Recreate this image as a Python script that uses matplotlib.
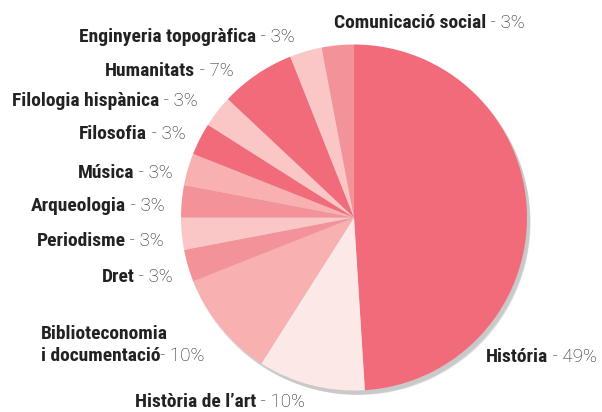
import matplotlib
matplotlib.use("Agg")
import matplotlib.pyplot as plt
from matplotlib.patches import Circle
from matplotlib import font_manager as fm

names = ["História", "Història de l’art", "Biblioteconomia\ni documentació", "Dret", "Periodisme",
         "Arqueologia", "Música", "Filosofia", "Filologia hispànica", "Humanitats",
         "Enginyeria topogràfica", "Comunicació social"]
values = [49, 10, 10, 3, 3, 3, 3, 3, 3, 7, 3, 3]
seps = [" - ", " - ", "- ", " - ", " - ", " - ", " - ", " - ", " - ", " - ", " - ", " - "]
colors = ["#F26B7B", "#FDE8E8", "#F8B0B1", "#F4929A", "#FAC6C6", "#F4929A", "#F8B0B1",
          "#F26B7B", "#FAC6C6", "#F26B7B", "#FAC6C6", "#F4929A"]
label_pos = [(486, 356, "left"), (135, 401, "left"), (41, 355, "left"), (173, 276, "right"),
             (164, 240, "right"), (165, 205, "right"), (173, 172, "right"), (186, 133, "right"),
             (198, 100, "right"), (234, 70, "right"), (295, 36, "right"), (334, 22, "left")]

avail = {f.name for f in fm.fontManager.ttflist}
cond = None
for cand in ["Roboto Condensed", "Liberation Sans Narrow", "DejaVu Sans Condensed",
             "Open Sans Condensed", "Noto Sans Condensed", "Arial Narrow"]:
    if cand in avail:
        cond = cand
        break
if cond is None:
    cond = "Roboto"
    bsize = 12.5
else:
    bsize = 14

W, H = 602, 412
fig = plt.figure(figsize=(W / 100, H / 100), dpi=100)
ax = fig.add_axes([0, 0, 1, 1])

cx, cy, r = 354, H - 217.5, 173
for i in range(8):
    ax.add_patch(Circle((cx + 2 + i * 0.4, cy - 3 - i * 0.4), r + 1 - i * 0.3,
                        facecolor="black", alpha=0.028, lw=0, zorder=0))
ax.pie(values, colors=colors, startangle=90, counterclock=False, center=(cx, cy), radius=r,
       wedgeprops=dict(linewidth=0), frame=True)
ax.set_xlim(0, W)
ax.set_ylim(0, H)
ax.set_aspect("equal")
ax.axis("off")

bold = dict(family=[cond, "DejaVu Sans"], weight="bold", size=bsize, color="#222222")
light = dict(family=["Roboto", "DejaVu Sans"], weight="light", size=13.5, color="#222222")

fig.canvas.draw()
renderer = fig.canvas.get_renderer()

def px_width(t):
    return t.get_window_extent(renderer=renderer).width

for name, v, sep, (x, y, ha) in zip(names, values, seps, label_pos):
    yy = H - y - 6
    pct = f"{sep}{v}%"
    lines = name.split("\n")
    if len(lines) == 2:
        ax.text(x, yy + 22, lines[0], ha="left", va="baseline", **bold)
        t1 = ax.text(x, yy, lines[1], ha="left", va="baseline", **bold)
        ax.text(x + px_width(t1), yy, pct, ha="left", va="baseline", **light)
    elif ha == "left":
        t1 = ax.text(x, yy, name, ha="left", va="baseline", **bold)
        ax.text(x + px_width(t1), yy, pct, ha="left", va="baseline", **light)
    else:
        t2 = ax.text(x, yy, pct, ha="right", va="baseline", **light)
        ax.text(x - px_width(t2), yy, name, ha="right", va="baseline", **bold)

fig.savefig("out.png", dpi=100)
